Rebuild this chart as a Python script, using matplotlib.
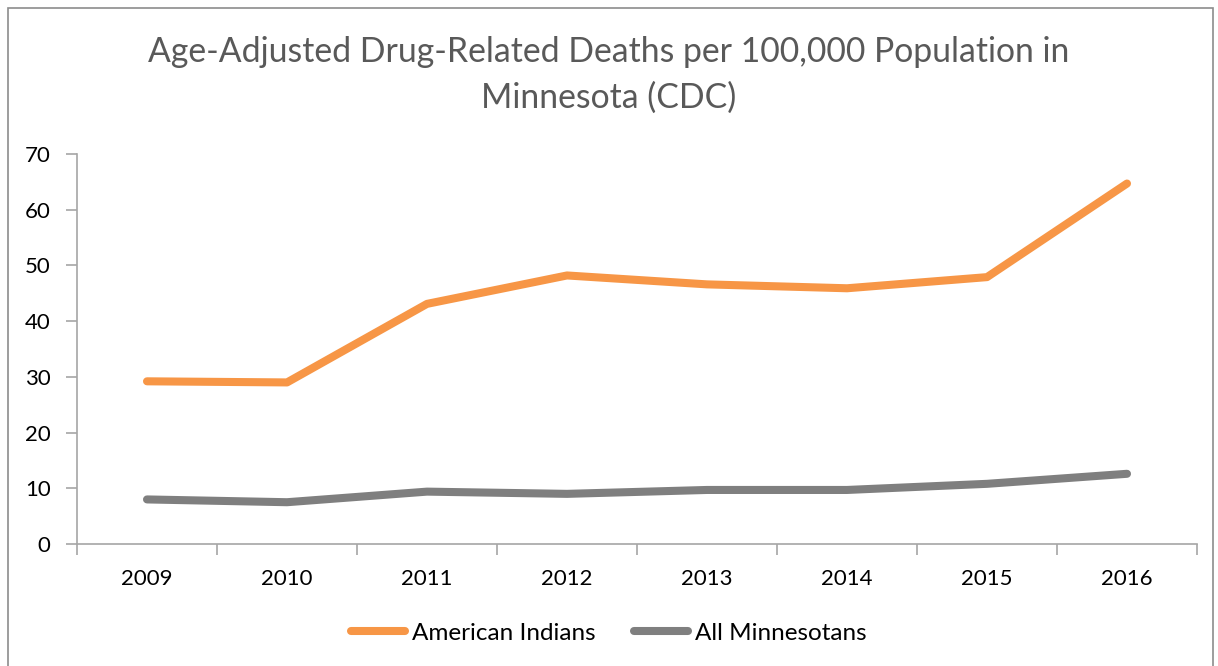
import matplotlib.pyplot as plt
from matplotlib.patches import Rectangle

plt.rcParams['font.family'] = ['Lato', 'DejaVu Sans']

years = ["2009", "2010", "2011", "2012", "2013", "2014", "2015", "2016"]
american_indians = [29.2, 29.0, 43.1, 48.2, 46.6, 45.9, 47.9, 64.7]
all_minnesotans = [8.0, 7.5, 9.4, 9.0, 9.7, 9.7, 10.8, 12.6]
yticks = [0, 10, 20, 30, 40, 50, 60, 70]

fig = plt.figure(figsize=(12.18, 6.66), dpi=100)
ax = fig.add_axes([77 / 1218, 122 / 666, 1120 / 1218, 390 / 666])

x = range(len(years))
ax.plot(x, american_indians, color="#F79646", lw=5.8, solid_capstyle="round",
        solid_joinstyle="round", label="American Indians")
ax.plot(x, all_minnesotans, color="#7F7F7F", lw=5.8, solid_capstyle="round",
        solid_joinstyle="round", label="All Minnesotans")

ax.set_xlim(-0.5, len(years) - 0.5)
ax.set_ylim(0, 70)
ax.set_yticks(yticks)
# category labels sit between the tick marks
ax.set_xticks([i + 0.5 for i in range(-1, len(years))], minor=False)
ax.set_xticklabels([])
ax.set_xticks(list(x), minor=True)
ax.set_xticklabels(years, minor=True)
ax.tick_params(axis="x", which="major", length=8, color="#A6A6A6", width=1.2)
ax.tick_params(axis="x", which="minor", length=0, pad=18, labelsize=16)
ax.tick_params(axis="y", length=8, color="#A6A6A6", width=1.2, labelsize=16, pad=11)

for s in ["top", "right"]:
    ax.spines[s].set_visible(False)
for s in ["left", "bottom"]:
    ax.spines[s].set_color("#A6A6A6")
    ax.spines[s].set_linewidth(1.2)

fig.text(0.5, 1 - 52 / 666, "Age-Adjusted Drug-Related Deaths per 100,000 Population in",
         ha="center", va="center", fontsize=24.3, color="#595959")
fig.text(0.5, 1 - 98 / 666, "Minnesota (CDC)",
         ha="center", va="center", fontsize=24.3, color="#595959")

fig.legend(loc="center", bbox_to_anchor=(0.5, 1 - 633 / 666), ncol=2, frameon=False,
           fontsize=17.5, handlelength=2.2, handletextpad=0.3, columnspacing=1.6)

fig.patches.append(Rectangle((8 / 1218, -0.01), 1205 / 1218, 1 - 8 / 666 + 0.01,
                             transform=fig.transFigure, fill=False,
                             edgecolor="#8C8C8C", lw=1.2))

fig.savefig("out.png", dpi=100)
